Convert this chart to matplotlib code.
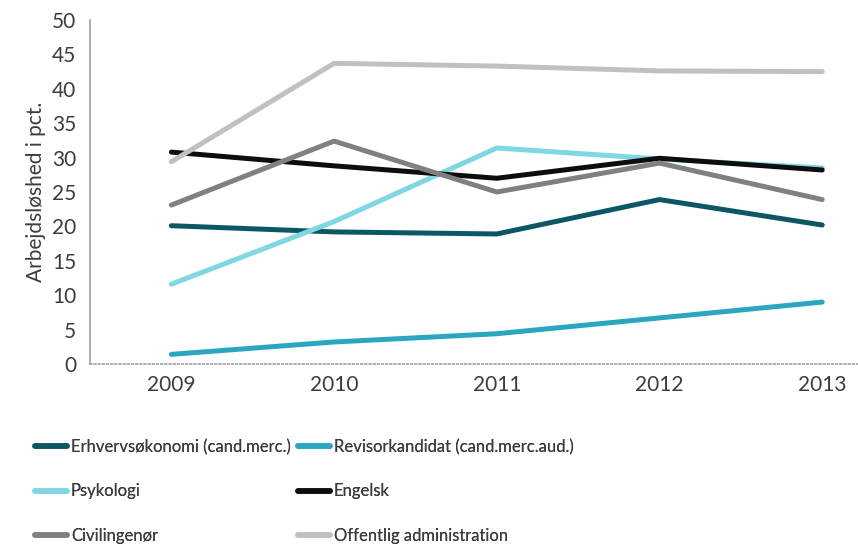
import matplotlib
matplotlib.use("Agg")
import matplotlib.pyplot as plt

years = ["2009", "2010", "2011", "2012", "2013"]
erhverv = [20.1, 19.2, 18.9, 23.9, 20.2]
revisor = [1.4, 3.2, 4.4, 6.7, 9.0]
psykologi = [11.6, 20.7, 31.4, 29.8, 28.5]
engelsk = [30.8, 28.8, 27.0, 29.9, 28.2]
civil = [23.1, 32.4, 25.0, 29.2, 23.9]
offentlig = [29.4, 43.7, 43.3, 42.6, 42.5]

names = ["Erhvervsøkonomi (cand.merc.)", "Revisorkandidat (cand.merc.aud.)",
         "Psykologi", "Engelsk", "Civilingenør", "Offentlig administration"]
colors = ["#0b5864", "#2ba6c1", "#7ed7e3", "#0d0d0d", "#808080", "#c0c0c0"]
series = [erhverv, revisor, psykologi, engelsk, civil, offentlig]

plt.rcParams['font.family'] = ['Lato', 'DejaVu Sans']
txt = "#3c3c3c"

fig = plt.figure(figsize=(8.58, 5.46), dpi=100)
ax = fig.add_axes([90/858, 182/546, 1 - 90/858, 344/546])

x = range(len(years))
lines = []
for vals, c, n in zip(series, colors, names):
    l, = ax.plot(x, vals, color=c, lw=3.6, solid_capstyle='round', label=n)
    lines.append(l)

ax.set_ylim(0, 50)
ax.set_yticks(range(0, 51, 5))
ax.set_xlim(-0.5, 4.22)
ax.set_xticks(list(x))
ax.set_xticklabels(years)
ax.tick_params(length=0, labelsize=15, labelcolor=txt, pad=8)
ax.tick_params(axis='y', pad=10)
for s in ["top", "right"]:
    ax.spines[s].set_visible(False)
ax.spines["left"].set_color("#a0a0a0")
ax.spines["left"].set_linewidth(1.2)
ax.spines["bottom"].set_color("#a0a0a0")
ax.spines["bottom"].set_linestyle((0, (1, 1.5)))
ax.spines["bottom"].set_linewidth(1.2)
ax.set_ylabel("Arbejdsløshed i pct.", fontsize=15, color=txt, labelpad=4)

for col, x0 in [(0, 35), (1, 298)]:
    idx = [col, col + 2, col + 4]
    leg = fig.legend([lines[i] for i in idx], [names[i] for i in idx],
                     loc="upper left", bbox_to_anchor=(x0/858, 1 - 439/546),
                     frameon=False, fontsize=12, handlelength=1.9,
                     handletextpad=0.25, labelspacing=1.7, borderpad=0,
                     borderaxespad=0, labelcolor=txt)
    for h in leg.get_lines():
        h.set_linewidth(4)
        h.set_solid_capstyle('round')
    fig.add_artist(leg)

fig.savefig("out.png", dpi=100)
